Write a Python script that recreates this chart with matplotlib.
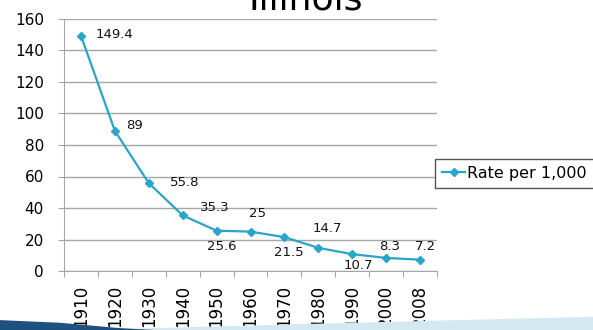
import matplotlib.pyplot as plt
import numpy as np
from matplotlib.patches import Polygon

# данные
years = ['1910', '1920', '1930', '1940', '1950', '1960', '1970', '1980', '1990', '2000', '2008']
rate = [149.4, 89, 55.8, 35.3, 25.6, 25, 21.5, 14.7, 10.7, 8.3, 7.2]
# смещения подписей (пиксели): левый край, центр по вертикали
label_offsets = [(15, 1), (11, 5), (21, 1), (17, 8), (-10, -16), (-1, 18), (-10, -15),
                 (-6, 19), (-9, -11), (-7, 11), (-5, 13)]

line_color = '#2aa4c8'
grid_color = '#a6a6a6'

fig = plt.figure(figsize=(5.93, 3.30), dpi=100)
ax = fig.add_axes([64 / 593, 1 - 271 / 330, 373 / 593, 252 / 330])

x = np.arange(len(years))
ax.plot(x, rate, color=line_color, marker='D', markersize=4.5, linewidth=1.6,
        label='Rate per 1,000')

for xi, v, (dx, dy) in zip(x, rate, label_offsets):
    ax.annotate(f'{v:g}', (xi, v), xytext=(dx, dy), textcoords='offset pixels',
                fontsize=9.5, ha='left', va='center', color='#111111')

ax.set_xlim(-0.5, len(years) - 0.5)
ax.set_ylim(0, 160)
ax.set_yticks(np.arange(0, 161, 20))
ax.yaxis.grid(True, color=grid_color, linewidth=1)
ax.set_axisbelow(True)

# тики по границам категорий
ax.set_xticks(np.arange(-0.5, len(years), 1))
ax.set_xticklabels([])
ax.set_xticks(x, minor=True)
ax.set_xticklabels(years, minor=True, rotation=90, fontsize=12)
ax.tick_params(axis='x', which='minor', length=0, pad=10)
ax.tick_params(axis='x', which='major', length=4.5, color=grid_color)
ax.tick_params(axis='y', length=4.5, color=grid_color, labelsize=11, pad=10)

for s in ['top', 'right']:
    ax.spines[s].set_visible(False)
for s in ['left', 'bottom']:
    ax.spines[s].set_color(grid_color)

leg = ax.legend(loc='center left', bbox_to_anchor=(0.995, 0.387), fontsize=11.5,
                frameon=True, fancybox=False, handlelength=1.4, handletextpad=0.15,
                borderpad=0.45, borderaxespad=0, framealpha=1)
leg.get_frame().set_edgecolor('#555555')
leg.get_frame().set_linewidth(1)
for h in leg.legend_handles:
    h.set_markersize(4)

fig.text(306 / 593, 1 - 9 / 330, 'Illinois', fontsize=26, ha='center', va='baseline')

# декоративная полоса внизу
fig.patches.append(Polygon([(0.15, 0), (0.55, 0.02), (1.0, 0.04), (1.0, 0)], closed=True,
                           transform=fig.transFigure, facecolor='#d3e8f1', edgecolor='none'))
fig.patches.append(Polygon([(0, 0), (0, 0.03), (0.1, 0.022), (0.2, 0.006), (0.26, 0)], closed=True,
                           transform=fig.transFigure, facecolor='#1e5180', edgecolor='none'))

plt.savefig('out.png', dpi=100)
